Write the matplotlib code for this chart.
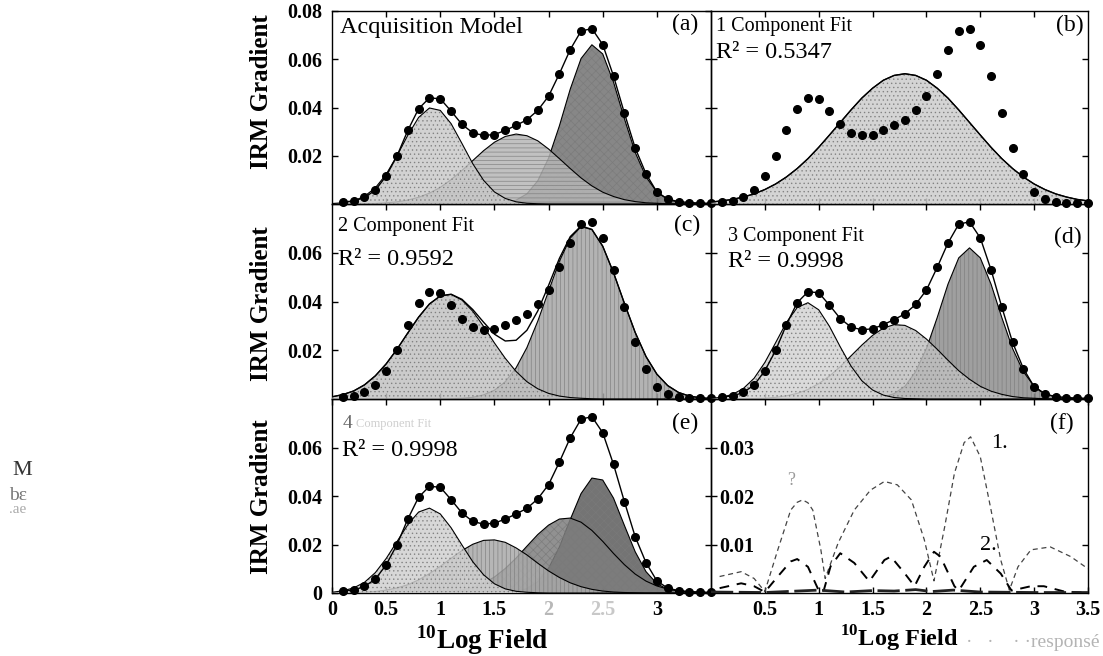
import numpy as np
import matplotlib
matplotlib.use('Agg')
import matplotlib.pyplot as plt

plt.rcParams['font.family'] = ['Liberation Serif', 'DejaVu Serif']
plt.rcParams['mathtext.fontset'] = 'custom'
plt.rcParams['mathtext.rm'] = 'Liberation Serif:bold'
plt.rcParams['mathtext.bf'] = 'Liberation Serif:bold'
plt.rcParams['hatch.linewidth'] = 0.5

# ---- measured IRM gradient data (dots) ----
x_data = [0.1, 0.2, 0.3, 0.4, 0.5, 0.6, 0.7, 0.8, 0.9, 1.0, 1.1, 1.2, 1.3, 1.4, 1.5, 1.6, 1.7, 1.8,
          1.9, 2.0, 2.1, 2.2, 2.3, 2.4, 2.5, 2.6, 2.7, 2.8, 2.9, 3.0, 3.1, 3.2, 3.3, 3.4, 3.5]
irm_gradient = [0.0009, 0.0012, 0.0027, 0.0057, 0.0116, 0.0199, 0.0305, 0.0395, 0.0440, 0.0436,
                0.0385, 0.0330, 0.0295, 0.0284, 0.0288, 0.0305, 0.0326, 0.0349, 0.0388, 0.0447,
                0.0540, 0.0640, 0.0717, 0.0727, 0.0661, 0.0530, 0.0377, 0.0232, 0.0125, 0.0050,
                0.0020, 0.0010, 0.0006, 0.0004, 0.0003]

# ---- component curves, read on a 0.1 grid ----
x_comp = [0.0, 0.1, 0.2, 0.3, 0.4, 0.5, 0.6, 0.7, 0.8, 0.9, 1.0, 1.1, 1.2, 1.3, 1.4, 1.5, 1.6, 1.7,
          1.8, 1.9, 2.0, 2.1, 2.2, 2.3, 2.4, 2.5, 2.6, 2.7, 2.8, 2.9, 3.0, 3.1, 3.2, 3.3, 3.4, 3.5]

model_c1 = [0.0002, 0.0005, 0.0013, 0.0032, 0.0067, 0.0123, 0.0200, 0.0285, 0.0359, 0.0398, 0.0388, 0.0333,
            0.0251, 0.0167, 0.0098, 0.0050, 0.0023, 0.0009, 0.0003, 0.0001, 0, 0, 0, 0, 0, 0, 0, 0, 0, 0,
            0, 0, 0, 0, 0, 0]
model_c2 = [0, 0, 0, 0.0001, 0.0002, 0.0005, 0.0009, 0.0016, 0.0028, 0.0045, 0.0069, 0.0101,
            0.0139, 0.0180, 0.0221, 0.0256, 0.0280, 0.0290, 0.0283, 0.0262, 0.0228, 0.0188, 0.0147, 0.0108,
            0.0075, 0.0049, 0.0031, 0.0018, 0.0010, 0.0005, 0.0003, 0.0001, 0.0001, 0, 0, 0]
model_c3 = [0, 0, 0, 0, 0, 0, 0, 0, 0, 0, 0, 0, 0, 0, 0, 0.0001, 0.0005, 0.0016, 0.0042, 0.0096, 0.0190,
            0.0324, 0.0476, 0.0603, 0.0660, 0.0622, 0.0505, 0.0354, 0.0214, 0.0112, 0.0050, 0.0020, 0.0007,
            0.0002, 0, 0]

fit1_c1 = [0.0008, 0.0013, 0.0019, 0.0029, 0.0042, 0.0060, 0.0083, 0.0112, 0.0147, 0.0188, 0.0235, 0.0286,
           0.0338, 0.0390, 0.0439, 0.0480, 0.0513, 0.0533, 0.0540, 0.0533, 0.0513, 0.0480, 0.0439, 0.0390,
           0.0338, 0.0286, 0.0235, 0.0188, 0.0147, 0.0112, 0.0083, 0.0060, 0.0042, 0.0029, 0.0019, 0.0013]

fit2_c1 = [0.0009, 0.0018, 0.0033, 0.0058, 0.0095, 0.0144, 0.0204, 0.0271, 0.0336, 0.0390, 0.0423, 0.0429,
           0.0406, 0.0360, 0.0298, 0.0230, 0.0167, 0.0113, 0.0071, 0.0042, 0.0023, 0.0012, 0.0006, 0.0003,
           0.0001, 0, 0, 0, 0, 0, 0, 0, 0, 0, 0, 0]
fit2_c2 = [0, 0, 0, 0, 0, 0, 0, 0, 0, 0, 0, 0.0001, 0.0003, 0.0007, 0.0017, 0.0036, 0.0071, 0.0128,
           0.0211, 0.0319, 0.0443, 0.0565, 0.0660, 0.0707, 0.0695, 0.0627, 0.0518, 0.0393, 0.0273, 0.0174,
           0.0102, 0.0055, 0.0027, 0.0012, 0.0005, 0.0002]

fit3_c1 = [0.0003, 0.0007, 0.0019, 0.0043, 0.0085, 0.0150, 0.0231, 0.0314, 0.0375, 0.0395, 0.0366, 0.0298,
           0.0214, 0.0135, 0.0075, 0.0037, 0.0016, 0.0006, 0.0002, 0.0001, 0, 0, 0, 0, 0, 0, 0, 0, 0, 0,
           0, 0, 0, 0, 0, 0]
fit3_c2 = [0, 0, 0, 0.0001, 0.0002, 0.0003, 0.0007, 0.0013, 0.0023, 0.0039, 0.0063, 0.0094, 0.0133, 0.0177,
           0.0221, 0.0261, 0.0291, 0.0305, 0.0302, 0.0281, 0.0246, 0.0204, 0.0159, 0.0116, 0.0081, 0.0052,
           0.0032, 0.0019, 0.0010, 0.0005, 0.0003, 0.0001, 0, 0, 0, 0]
fit3_c3 = [0, 0, 0, 0, 0, 0, 0, 0, 0, 0, 0, 0, 0, 0, 0.0001, 0.0002, 0.0008, 0.0022, 0.0052, 0.0112, 0.0207,
           0.0334, 0.0471, 0.0579, 0.0620, 0.0579, 0.0471, 0.0334, 0.0207, 0.0112, 0.0052, 0.0022, 0.0008,
           0.0002, 0.0001, 0]

fit4_c1 = [0.0003, 0.0009, 0.0021, 0.0044, 0.0084, 0.0142, 0.0212, 0.0282, 0.0334, 0.0350, 0.0326, 0.0269,
           0.0198, 0.0129, 0.0075, 0.0038, 0.0017, 0.0007, 0.0003, 0.0001, 0, 0, 0, 0, 0, 0, 0, 0, 0, 0,
           0, 0, 0, 0, 0, 0]
fit4_c2 = [0, 0.0001, 0.0001, 0.0003, 0.0006, 0.0012, 0.0021, 0.0034, 0.0054, 0.0080, 0.0110, 0.0143,
           0.0175, 0.0201, 0.0217, 0.0219, 0.0209, 0.0186, 0.0157, 0.0123, 0.0091, 0.0064, 0.0042, 0.0026,
           0.0015, 0.0008, 0.0004, 0.0002, 0.0001, 0, 0, 0, 0, 0, 0, 0]
fit4_c3 = [0, 0, 0, 0, 0, 0, 0, 0, 0, 0.0001, 0.0003, 0.0006, 0.0012, 0.0023, 0.0040, 0.0066, 0.0101,
           0.0144, 0.0193, 0.0241, 0.0280, 0.0305, 0.0309, 0.0292, 0.0258, 0.0213, 0.0163, 0.0117, 0.0078,
           0.0049, 0.0029, 0.0016, 0.0008, 0.0004, 0.0002, 0.0001]
fit4_c4 = [0, 0, 0, 0, 0, 0, 0, 0, 0, 0, 0, 0, 0, 0, 0, 0, 0.0002, 0.0006, 0.0018, 0.0047, 0.0102, 0.0190,
           0.0303, 0.0410, 0.0474, 0.0466, 0.0391, 0.0279, 0.0170, 0.0088, 0.0039, 0.0015, 0.0005, 0.0001,
           0, 0]

# ---- panel (f): misfit curves ----
misfit1_x = [0.08, 0.28, 0.40, 0.50, 0.62, 0.74, 0.80, 0.85, 0.90, 0.945, 1.02, 1.06, 1.18, 1.33, 1.48,
             1.61, 1.73, 1.86, 1.98, 2.07, 2.17, 2.26, 2.35, 2.41, 2.50, 2.60, 2.69, 2.77, 2.85, 2.97,
             3.15, 3.34, 3.50]
misfit1_y = [0.0034, 0.0044, 0.0030, 0.0003, 0.0089, 0.0171, 0.0187, 0.0192, 0.0186, 0.0171, 0.0089,
             0.0030, 0.0103, 0.0171, 0.0212, 0.0230, 0.0223, 0.0192, 0.0110, 0.0025, 0.0137, 0.0247,
             0.0310, 0.0322, 0.0281, 0.0171, 0.0068, 0.0006, 0.0054, 0.0089, 0.0095, 0.0075, 0.0050]
misfit2_x = [0.08, 0.28, 0.40, 0.50, 0.62, 0.74, 0.80, 0.90, 0.99, 1.04, 1.11, 1.20, 1.33, 1.47, 1.61,
             1.67, 1.80, 1.89, 1.98, 2.07, 2.13, 2.26, 2.30, 2.44, 2.56, 2.69, 2.79, 2.97, 3.09, 3.28, 3.46]
misfit2_y = [0.0010, 0.0020, 0.0014, 0.0002, 0.0034, 0.0065, 0.0070, 0.0054, 0.0010, 0.0000, 0.0055,
             0.0082, 0.0062, 0.0024, 0.0068, 0.0075, 0.0040, 0.0014, 0.0054, 0.0085, 0.0075, 0.0014,
             0.0005, 0.0054, 0.0068, 0.0040, 0.0005, 0.0014, 0.0014, 0.0003, 0.0001]
misfit34_x = [0.0, 0.5, 1.0, 1.25, 1.5, 1.7, 1.9, 2.05, 2.25, 2.5, 3.0, 3.5]
misfit34_y = [0.0002, 0.0001, 0.0006, 0.0002, 0.0005, 0.0004, 0.0007, 0.0003, 0.0006, 0.0002, 0.0001, 0.0001]

panel_comps = {
    'a': [model_c1, model_c2, model_c3],
    'b': [fit1_c1],
    'c': [fit2_c1, fit2_c2],
    'd': [fit3_c1, fit3_c2, fit3_c3],
    'e': [fit4_c1, fit4_c2, fit4_c3, fit4_c4],
}
panel_colors = {
    'a': ['#cacaca', '#b6b6b6', '#727272'],
    'b': ['#cdcdcd'],
    'c': ['#c2c2c2', '#a6a6a6'],
    'd': ['#d4d4d4', '#c0c0c0', '#8e8e8e'],
    'e': ['#d0d0d0', '#aaaaaa', '#7e7e7e', '#5c5c5c'],
}
panel_hatch = {
    'a': ['....', '----', 'xxxx'],
    'b': ['....'],
    'c': ['....', '||||'],
    'd': ['....', '....', '||||'],
    'e': ['....', '||||', 'xxxx', 'xxxx'],
}
panel_title = {
    'a': ('Acquisition Model', None),
    'b': ('1 Component Fit', 'R\u00b2 = 0.5347'),
    'c': ('2 Component Fit', 'R\u00b2 = 0.9592'),
    'd': ('3 Component Fit', 'R\u00b2 = 0.9998'),
    'e': (None, 'R\u00b2 = 0.9998'),
}

W, H = 1103, 656
fig = plt.figure(figsize=(11.03, 6.56), dpi=100)


def ax_at(x0, y0, x1, y1):
    return fig.add_axes([x0 / W, 1 - y1 / H, (x1 - x0) / W, (y1 - y0) / H])


L0, L1, R1 = 332, 711, 1088
rows = [(11, 204), (204, 399), (399, 593)]
axes = {
    'a': ax_at(L0, rows[0][0], L1, rows[0][1]),
    'b': ax_at(L1, rows[0][0], R1, rows[0][1]),
    'c': ax_at(L0, rows[1][0], L1, rows[1][1]),
    'd': ax_at(L1, rows[1][0], R1, rows[1][1]),
    'e': ax_at(L0, rows[2][0], L1, rows[2][1]),
    'f': ax_at(L1, rows[2][0], R1, rows[2][1]),
}

for k, ax in axes.items():
    ax.set_xlim(0, 3.5)
    ax.set_ylim(0, 0.04 if k == 'f' else 0.08)
    ax.patch.set_alpha(0)
    for sp in ax.spines.values():
        sp.set_linewidth(1.0)
    ax.tick_params(direction='in', top=True, right=True, length=4, width=1,
                   labelsize=14, pad=7)
    ax.set_xticks([0.5, 1, 1.5, 2, 2.5, 3])
    ax.set_xticklabels([])
    if k == 'f':
        ax.set_yticks([0.01, 0.02, 0.03])
    else:
        ax.set_yticks([0.02, 0.04, 0.06])
    ax.set_yticklabels([])

bold = dict(fontweight='bold', fontsize=14.5)
axes['a'].set_yticks([0.02, 0.04, 0.06, 0.08])
axes['a'].set_yticklabels(['0.02', '0.04', '0.06', '0.08'], **bold)
axes['c'].set_yticklabels(['0.02', '0.04', '0.06'], **bold)
axes['e'].set_yticks([0, 0.02, 0.04, 0.06])
axes['e'].set_yticklabels(['0', '0.02', '0.04', '0.06'], **bold)
axes['e'].set_xticks([0, 0.5, 1, 1.5, 2, 2.5, 3])
labs = axes['e'].set_xticklabels(['0', '0.5', '1', '1.5', '2', '2.5', '3'], **bold)
labs[4].set_color('#b8b8b8')
labs[5].set_color('#c8c8c8')
axes['e'].tick_params(axis='x', pad=5)
axes['f'].set_xticks([0.5, 1, 1.5, 2, 2.5, 3, 3.5])
axes['f'].set_xticklabels(['0.5', '1', '1.5', '2', '2.5', '3', '3.5'], **bold)
axes['f'].tick_params(axis='x', pad=5)
axes['f'].set_yticklabels(['0.01', '0.02', '0.03'], **bold)
axes['f'].tick_params(axis='y', pad=-6)
for t in axes['f'].get_yticklabels():
    t.set_horizontalalignment('left')

for k in ['a', 'b', 'c', 'd', 'e']:
    ax = axes[k]
    comps = panel_comps[k]
    n = len(comps)
    for i in reversed(range(n)):
        z = 2 + (n - i) * 2
        ax.fill_between(x_comp, 0, comps[i], facecolor=panel_colors[k][i], edgecolor='#7a7a7a',
                        hatch=panel_hatch[k][i], alpha=0.85, lw=0, zorder=z)
        ax.plot(x_comp, comps[i], color='k', lw=0.8, zorder=z + 1)

for k in ['a', 'd', 'e']:
    axes[k].plot(x_data, irm_gradient, '-o', color='k', lw=1.0, ms=5.5, zorder=20, clip_on=False)
for k in ['b', 'c']:
    fit = np.sum(np.array(panel_comps[k]), axis=0)
    axes[k].plot(x_comp, fit, color='k', lw=1.0, zorder=19)
    axes[k].plot(x_data, irm_gradient, 'o', color='k', ms=5.5, zorder=20, clip_on=False)

axf = axes['f']
axf.plot(misfit1_x, misfit1_y, color='#444444', lw=0.9, dashes=(4, 3), zorder=5)
axf.plot(misfit2_x, misfit2_y, color='k', lw=1.4, dashes=(5, 4), zorder=6)
axf.plot(misfit34_x, misfit34_y, color='#222222', lw=2.0, dashes=(8, 2), zorder=7)
axf.text(2.6, 0.0300, '1.', fontsize=16, ha='left', va='baseline')
axf.text(2.5, 0.0088, '2.', fontsize=16, ha='left', va='baseline')
axf.text(0.74, 0.0222, '?', fontsize=13, color='#9a9a9a', ha='center', va='baseline')

# panel letters
letters = {'a': '(a)', 'b': '(b)', 'c': '(c)', 'd': '(d)', 'e': '(e)', 'f': '(f)'}
lpos = {'a': (698, 30), 'b': (1084, 31), 'c': (700, 231), 'd': (1082, 243), 'e': (698, 429),
        'f': (1074, 429)}
for k, (px, py) in lpos.items():
    fig.text(px / W, 1 - py / H, letters[k], fontsize=17, ha='right', va='baseline')

# panel titles
fig.text(340 / W, 1 - 33 / H, 'Acquisition Model', fontsize=17.5, ha='left', va='baseline')
tpos = {'b': (716, 31, 58), 'c': (338, 231, 265), 'd': (728, 241, 267), 'e': (342, None, 456)}
for k, (px, y1, y2) in tpos.items():
    t1, t2 = panel_title[k]
    if t1 is not None:
        fig.text(px / W, 1 - y1 / H, t1, fontsize=14.5, ha='left', va='baseline')
    if t2 is not None:
        fig.text(px / W, 1 - y2 / H, t2, fontsize=17.5, ha='left', va='baseline')
fig.text(343 / W, 1 - 428 / H, '4', fontsize=14, color='#666666', ha='left', va='baseline')
fig.text(356 / W, 1 - 427 / H, 'Component Fit', fontsize=9, color='#cfcfcf', ha='left', va='baseline')

# axis labels
for yc in [92, 304, 497]:
    fig.text(262 / W, 1 - yc / H, 'IRM Gradient', fontsize=18, fontweight='bold', rotation=90,
             ha='center', va='center')
fig.text(482 / W, 1 - 649 / H, r'$^{\mathbf{10}}$Log Field', fontsize=19.5, fontweight='bold',
         ha='center', va='baseline')
fig.text(899 / W, 1 - 647 / H, r'$^{\mathbf{10}}$Log Field', fontsize=17.5, fontweight='bold',
         ha='center', va='baseline')

# faint stray scan text
fig.text(12 / W, 1 - 475 / H, 'M', fontsize=16, color='#333333', ha='left', va='baseline')
fig.text(9 / W, 1 - 500 / H, 'b\u03b5', fontsize=14, color='#777777', ha='left', va='baseline')
fig.text(9 / W, 1 - 513 / H, '.ae', fontsize=11, color='#aaaaaa', ha='left', va='baseline')
fig.text(966 / W, 1 - 647 / H, '\u00b7   \u00b7    \u00b7 \u00b7responsé', fontsize=14, color='#b4b4b4',
         ha='left', va='baseline')

fig.savefig('out.png', dpi=100)
